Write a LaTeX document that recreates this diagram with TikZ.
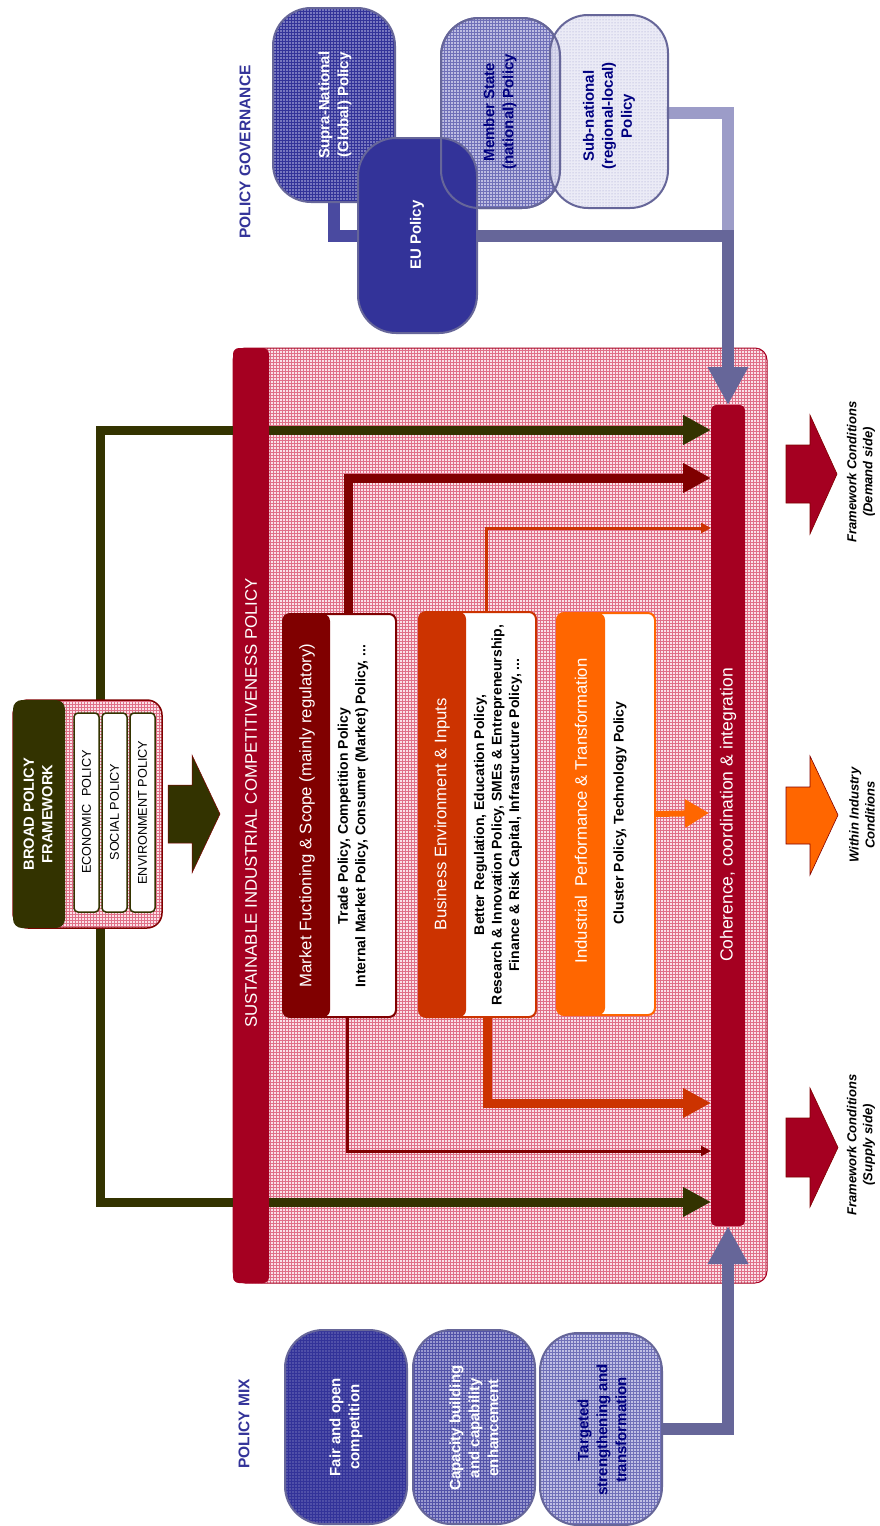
\documentclass[tikz,border=0pt]{standalone}
\usepackage{fontspec}
\setmainfont{Liberation Sans}
\usetikzlibrary{arrows.meta,patterns}
\definecolor{cCrimson}{HTML}{A50021}
\definecolor{cMaroon}{HTML}{800000}
\definecolor{cOrRed}{HTML}{CC3300}
\definecolor{cOrange}{HTML}{FF6600}
\definecolor{cOlive}{HTML}{333300}
\definecolor{cNavy}{HTML}{000080}
\definecolor{cGov}{HTML}{333399}
\definecolor{cGray}{HTML}{666699}
\definecolor{cPink}{HTML}{FAE2E8}
\definecolor{cPinkGrid}{HTML}{E07088}
\definecolor{cSupra}{HTML}{7878BF}
\definecolor{cFair}{HTML}{5050A8}
\definecolor{cCapa}{HTML}{9A9AD0}
\definecolor{cMember}{HTML}{BDBDE2}
\definecolor{cTarg}{HTML}{C0C0E4}
\definecolor{cSub}{HTML}{E6E6F4}
\definecolor{cSubLine}{HTML}{9C9CC8}
\definecolor{cSupraLine}{HTML}{4A4AA0}
\newcommand\fsz[2]{\fontsize{#1}{#2}\selectfont}
\begin{document}
\begin{tikzpicture}[x=1pt,y=-1pt,
  every node/.style={inner sep=0pt, outer sep=0pt},
  rtxt/.style={rotate=90, align=center},
  pinkfill/.style={preaction={fill=cPink}, pattern=grid, pattern color=cPinkGrid},
  govbox/.style={draw=cGray, line width=2pt, rounded corners=38pt, minimum width=#1, minimum height=194pt},
  pbox/.style={fill=white, line width=2pt, rounded corners=7pt},
  phead/.style={rounded corners=7pt, minimum width=47pt},
  bigtip/.style={-{Triangle[length=28pt,width=28pt]}},
  smalltip/.style={-{Triangle[length=10pt,width=10pt]}},
  fattip/.style={-{Triangle[length=38pt,width=38pt]}},
  headtxt/.style={rtxt, text=white, font=\fsz{16.7}{20}},
  bodytxt/.style={rtxt, text=black, font=\bfseries\fsz{14}{17.5}},
  gtxt/.style={rtxt, font=\bfseries\fsz{15}{19}},
  outtxt/.style={rtxt, text=black, font=\bfseries\itshape\fsz{13}{16}},
  outarrow/.style={draw=cMaroon, line width=0.6pt}
]
\useasboundingbox (0,0) rectangle (879,1526);
\fill[white] (0,0) rectangle (879,1526);

% ---------- main panel ----------
\node[pinkfill, draw=cCrimson, line width=1pt, rounded corners=12pt,
      minimum width=534pt, minimum height=935pt] (sicp) at (500,815.5) {};

% named connector ends
\coordinate (bpfT) at (100,702);
\coordinate (bpfB) at (100,926);
\coordinate (cO1) at (711,430);
\coordinate (cO2) at (711,1202);
\coordinate (cM1) at (711,478);
\coordinate (cM2) at (711,1151);
\coordinate (cB1) at (711,528);
\coordinate (cB2) at (711,1103);
\coordinate (cI) at (709,813);
\coordinate (mT) at (348,615);
\coordinate (mB) at (347,1016);
\coordinate (bT) at (486,613);
\coordinate (bB) at (487,1016);
\coordinate (jn) at (728,236);
\coordinate (cohN) at (728,405);
\coordinate (supraS) at (334,200);
\coordinate (euW) at (360,236);
\coordinate (subE) at (666,112.5);

% olive connectors (behind left bar)
\draw[cOlive, line width=9pt, bigtip] (bpfT) |- (cO1);
\draw[cOlive, line width=9pt, bigtip] (bpfB) |- (cO2);

% left bar
\node[fill=cCrimson, rounded corners=6pt, minimum width=36pt, minimum height=935pt] (sicpbar) at (251,815.5) {};
\node[rtxt, text=white, font=\fsz{16.8}{20}] (sicptxt) at (251,803) {SUSTAINABLE INDUSTRIAL COMPETITIVENESS POLICY};

% policy connectors
\draw[cMaroon, line width=9pt, bigtip] (mT) |- (cM1);
\draw[cMaroon, line width=3pt, smalltip] (mB) |- (cM2);
\draw[cOrRed, line width=3pt, smalltip] (bT) |- (cB1);
\draw[cOrRed, line width=9pt, bigtip] (bB) |- (cB2);

% market box
\node[pbox, draw=cMaroon, minimum width=113pt, minimum height=403pt] (mkt) at (339.5,815.5) {};
\node[phead, fill=cMaroon, minimum height=403pt] (mkth) at (306.5,815.5) {};
\node[headtxt] (mktt) at (307,815.5) {Market Fuctioning \& Scope (mainly regulatory)};
\node[bodytxt] (mktb) at (353,816) {Trade Policy, Competition Policy\\Internal Market Policy, Consumer (Market) Policy, ...};

% business box
\node[pbox, draw=cOrRed, minimum width=117pt, minimum height=405pt] (bus) at (477.5,814.5) {};
\node[phead, fill=cOrRed, minimum height=405pt] (bush) at (442.5,814.5) {};
\node[headtxt] (bust) at (442,814) {Business Environment \& Inputs};
\node[bodytxt] (busb) at (498,815) {Better Regulation, Education Policy,\\Research \& Innovation Policy, SMEs \& Entrepreneurship,\\Finance \& Risk Capital, Infrastructure Policy, ...};

% industrial box
\node[pbox, draw=cOrange, minimum width=98pt, minimum height=402pt] (ind) at (606,814) {};
\node[phead, fill=cOrange, minimum width=48pt, minimum height=402pt] (indh) at (581,814) {};
\node[headtxt] (indt) at (581,811) {Industrial\ \ Performance \& Transformation};
\node[bodytxt] (indb) at (620,813) {Cluster Policy, Technology Policy};
\draw[cOrange, line width=6pt, -{Triangle[length=24pt,width=27pt]}] (ind.east) -- (cI);

% governance connectors
\draw[cSupraLine, line width=12pt] (supraS) |- (euW);
\draw[cSubLine, line width=12pt] (subE) -| (jn);

% governance boxes
\node[govbox=122pt, preaction={fill=cSupra}, pattern=grid, pattern color=cGov] (supra) at (334,105) {};
\node[govbox=119pt, minimum height=190pt, preaction={fill=cMember}, pattern=grid, pattern color=cGov!70] (member) at (500.5,113) {};
\node[govbox=118pt, minimum height=193pt, preaction={fill=cSub, fill opacity=0.8}, pattern=dots, pattern color=cGov!50] (sub) at (609,111.5) {};
\node[govbox=119pt, minimum height=195pt, fill=cGov] (eu) at (417.5,235.5) {};
\node[draw=cGray, line width=2pt, rounded corners=38pt, minimum width=119pt, minimum height=190pt] (memberoutline) at (500.5,113) {};

\draw[cGray, line width=12pt, fattip] (eu.east) -| (cohN);

\node[gtxt, text=white] (suprat) at (335,105) {Supra-National\\(Global) Policy};
\node[gtxt, text=white] (eut) at (417,235) {EU Policy};
\node[gtxt, text=cNavy] (membert) at (500,112) {Member State\\(national) Policy};
\node[gtxt, text=cNavy] (subt) at (609,116) {Sub-national\\(regional-local)\\Policy};
\node[rtxt, text=cGov, font=\bfseries\fsz{15.5}{19}] (govt) at (245,152) {POLICY GOVERNANCE};

% right bar
\node[fill=cCrimson, rounded corners=5pt, minimum width=34pt, minimum height=821pt] (coh) at (728,815.5) {};
\node[rtxt, text=white, font=\fsz{17.5}{20}] (coht) at (728,815) {Coherence, coordination \& integration};

% policy mix
\node[govbox=122pt, preaction={fill=cFair}, pattern=grid, pattern color=cGov] (fair) at (346,1427) {};
\node[govbox=122pt, preaction={fill=cCapa}, pattern=grid, pattern color=cGov!85] (capa) at (474,1427) {};
\node[govbox=122pt, minimum height=192pt, preaction={fill=cTarg}, pattern=grid, pattern color=cGov!70] (targ) at (601,1429) {};
\draw[cGray, line width=12pt, fattip] (targ.east) -| (coh.south);
\node[gtxt, text=white] (fairt) at (346,1427) {Fair and open\\competition};
\node[gtxt, text=white] (capat) at (474,1428) {Capacity building\\and capability\\enhancement};
\node[gtxt, text=cNavy] (targt) at (602,1430) {Targeted\\strengthening and\\transformation};
\node[rtxt, text=cGov, font=\bfseries\fsz{15.5}{19}] (mixt) at (244,1424) {POLICY MIX};

% broad policy framework
\node[pinkfill, draw=cMaroon, line width=1.5pt, rounded corners=15pt, minimum width=149pt, minimum height=228pt] (bpf) at (87.5,814) {};
\node[fill=cOlive, rounded corners=9pt, minimum width=52pt, minimum height=228pt] (bpfh) at (39,814) {};
\node[rtxt, text=white, font=\bfseries\fsz{14.7}{18.5}] (bpft) at (38,814) {BROAD POLICY\\FRAMEWORK};
\node[draw=cOlive, line width=1.5pt, fill=white, rounded corners=4pt, minimum width=25pt, minimum height=199pt] (econ) at (86.5,812.5) {};
\node[draw=cOlive, line width=1.5pt, fill=white, rounded corners=4pt, minimum width=25pt, minimum height=199pt] (soc) at (114.5,812.5) {};
\node[draw=cOlive, line width=1.5pt, fill=white, rounded corners=4pt, minimum width=25pt, minimum height=199pt] (env) at (142.5,812.5) {};
\node[rtxt, font=\fsz{12.7}{15}] (econt) at (86.5,812) {ECONOMIC\ \ POLICY};
\node[rtxt, font=\fsz{12.7}{15}] (soct) at (114.5,812) {SOCIAL POLICY};
\node[rtxt, font=\fsz{12.7}{15}] (envt) at (142.5,812.5) {ENVIRONMENT POLICY};

% big olive arrow
\path[fill=cOlive, draw=cMaroon, line width=0.5pt] (168,785) -- (192,785) -- (192,755) -- (220,814) -- (192,873) -- (192,843) -- (168,843) -- cycle;

% output arrows
\path[fill=cCrimson, outarrow] (786,445) -- (810,445) -- (810,415) -- (837,474) -- (810,534) -- (810,503) -- (786,503) -- cycle;
\path[fill=cOrange, outarrow] (786,787) -- (810,787) -- (810,756) -- (838,815) -- (810,875) -- (810,844) -- (786,844) -- cycle;
\path[fill=cCrimson, outarrow] (786,1118) -- (810,1118) -- (810,1088) -- (838,1147.5) -- (810,1207) -- (810,1177) -- (786,1177) -- cycle;
\node[outtxt] (demt) at (861,472) {Framework Conditions\\(Demand side)};
\node[outtxt] (witht) at (862,815) {Within Industry\\Conditions};
\node[outtxt] (supt) at (861,1145) {Framework Conditions\\(Supply side)};
\end{tikzpicture}
\end{document}
